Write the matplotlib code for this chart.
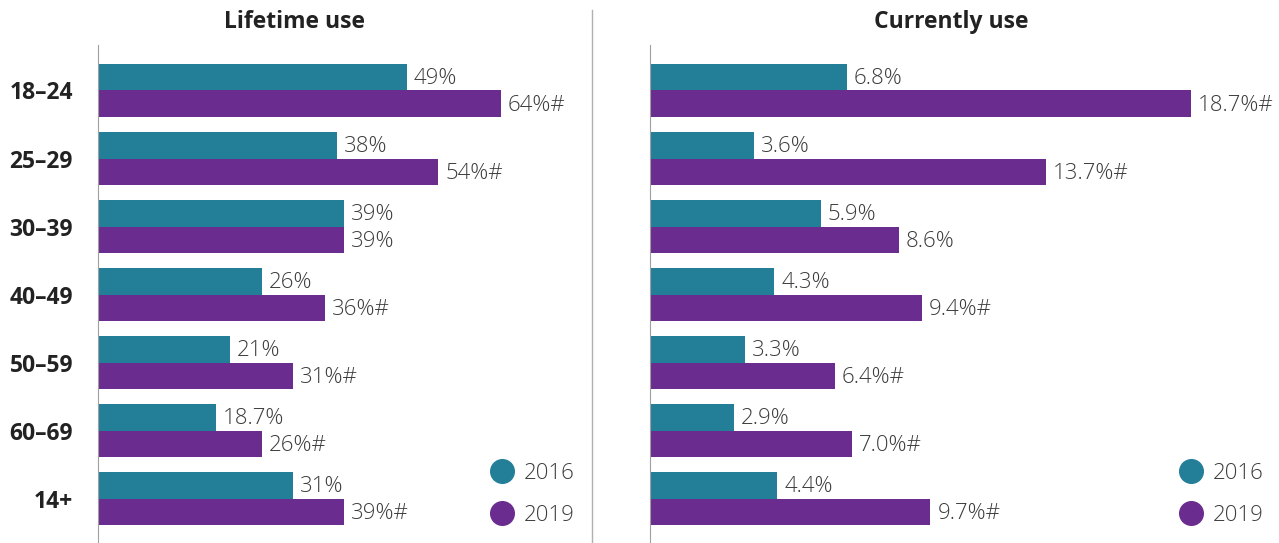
import matplotlib.pyplot as plt
from matplotlib.lines import Line2D

# age groups and values (%)
groups = ['18–24', '25–29', '30–39', '40–49', '50–59', '60–69', '14+']
life_2016 = [49, 38, 39, 26, 21, 18.7, 31]
life_2019 = [64, 54, 39, 36, 31, 26, 39]
life_2016_lbl = ['49%', '38%', '39%', '26%', '21%', '18.7%', '31%']
life_2019_lbl = ['64%#', '54%#', '39%', '36%#', '31%#', '26%#', '39%#']
curr_2016 = [6.8, 3.6, 5.9, 4.3, 3.3, 2.9, 4.4]
curr_2019 = [18.7, 13.7, 8.6, 9.4, 6.4, 7.0, 9.7]
curr_2016_lbl = ['6.8%', '3.6%', '5.9%', '4.3%', '3.3%', '2.9%', '4.4%']
curr_2019_lbl = ['18.7%#', '13.7%#', '8.6%', '9.4%#', '6.4%#', '7.0%#', '9.7%#']
years = ['2016', '2019']

teal = '#237f98'
purple = '#6a2c8e'
plt.rcParams['font.family'] = ['Open Sans', 'DejaVu Sans']

fig = plt.figure(figsize=(12.79, 5.43), dpi=100)
W, H = 1279, 543
ax1 = fig.add_axes([98 / W, 0, 492 / W, 498 / H])
ax2 = fig.add_axes([650 / W, 0, 629 / W, 498 / H])

y = list(range(len(groups)))
h = 0.39


def panel(ax, a, b, la, lb, xmax, pad):
    ax.barh([i - h / 2 for i in y], a, height=h, color=teal)
    ax.barh([i + h / 2 for i in y], b, height=h, color=purple)
    for i in y:
        ax.text(a[i] + pad, i - h / 2 + 0.025, la[i], va='center', ha='left',
                fontsize=16, color='#3c3c3c', fontweight='light')
        ax.text(b[i] + pad, i + h / 2 + 0.025, lb[i], va='center', ha='left',
                fontsize=16, color='#3c3c3c', fontweight='light')
    ax.set_xlim(0, xmax)
    ax.set_ylim(6.654, -0.669)
    for s in ['top', 'right', 'bottom']:
        ax.spines[s].set_visible(False)
    ax.spines['left'].set_color('#a0a0a0')
    ax.set_xticks([])
    ax.tick_params(axis='y', length=0)
    handles = [Line2D([], [], marker='o', linestyle='none', markersize=17, color=c)
               for c in (teal, purple)]
    leg = ax.legend(handles, years, loc='lower right', bbox_to_anchor=(1.0, 0.003),
                    frameon=False, fontsize=16, handletextpad=0.45, labelspacing=0.95,
                    borderaxespad=0.3, handlelength=1.0)
    for t in leg.get_texts():
        t.set_color('#3c3c3c')
        t.set_fontweight('light')


panel(ax1, life_2016, life_2019, life_2016_lbl, life_2019_lbl, 78.1, 1.1)
panel(ax2, curr_2016, curr_2019, curr_2016_lbl, curr_2019_lbl, 21.76, 0.24)

ax1.set_yticks(y)
ax1.set_yticklabels(groups, fontsize=16.5, fontweight='bold', color='#222222')
ax1.tick_params(axis='y', pad=18)
ax2.set_yticks([])

fig.text(294 / W, 1 - 22 / H, 'Lifetime use', ha='center', va='center',
         fontsize=16.5, fontweight='bold', color='#222222')
fig.text(951 / W, 1 - 22 / H, 'Currently use', ha='center', va='center',
         fontsize=16.5, fontweight='bold', color='#222222')
fig.add_artist(Line2D([592 / W, 592 / W], [0, 1 - 10 / H], color='#b0b0b0', lw=1))

fig.savefig('out.png', dpi=100)
